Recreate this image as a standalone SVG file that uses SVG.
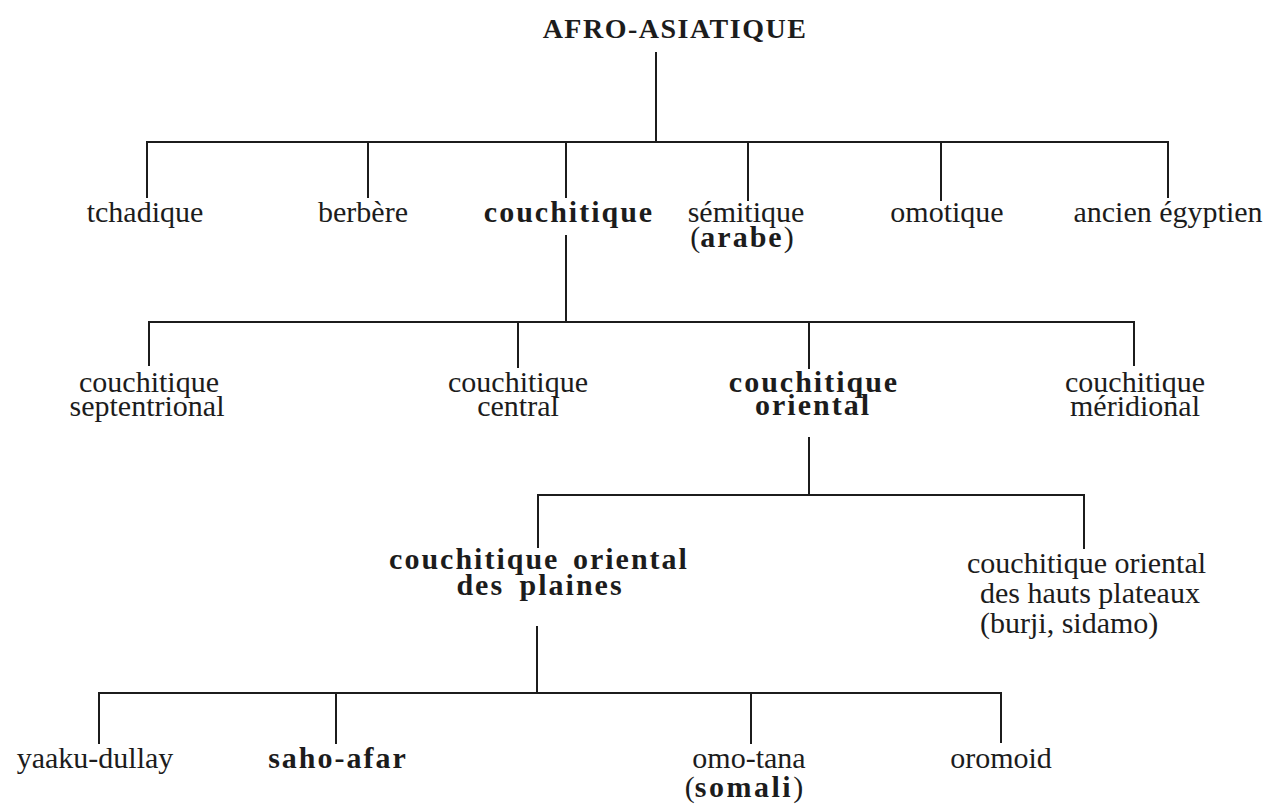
<svg xmlns="http://www.w3.org/2000/svg" width="1278" height="806" viewBox="0 0 1278 806">
<style>
.t{font-family:"Liberation Serif","Times New Roman",serif;font-size:30px;fill:#1c1c1c;text-anchor:middle}
.b{font-weight:bold;letter-spacing:2px}
.n{font-weight:normal;letter-spacing:0}
.l{text-anchor:start}
.c line{stroke:#1c1c1c;stroke-width:2;stroke-linecap:square}
</style>
<rect width="1278" height="806" fill="#ffffff"/>
<g id="connectors" class="c">
<line x1="656" y1="53" x2="656" y2="142"/>
<line x1="147" y1="142" x2="1168" y2="142"/>
<line x1="147" y1="142" x2="147" y2="197"/>
<line x1="368" y1="142" x2="368" y2="197"/>
<line x1="566" y1="142" x2="566" y2="197"/>
<line x1="748" y1="142" x2="748" y2="200"/>
<line x1="941" y1="142" x2="941" y2="200"/>
<line x1="1168" y1="142" x2="1168" y2="197"/>
<line x1="566" y1="236" x2="566" y2="322"/>
<line x1="149" y1="322" x2="1134" y2="322"/>
<line x1="149" y1="322" x2="149" y2="365"/>
<line x1="518" y1="322" x2="518" y2="367"/>
<line x1="809" y1="322" x2="809" y2="368"/>
<line x1="1134" y1="322" x2="1134" y2="365"/>
<line x1="809" y1="438" x2="809" y2="495"/>
<line x1="538" y1="495" x2="1084" y2="495"/>
<line x1="538" y1="495" x2="538" y2="547"/>
<line x1="1084" y1="495" x2="1084" y2="548"/>
<line x1="537" y1="627" x2="537" y2="693"/>
<line x1="99" y1="693" x2="1001" y2="693"/>
<line x1="99" y1="693" x2="99" y2="743"/>
<line x1="336" y1="693" x2="336" y2="743"/>
<line x1="751" y1="693" x2="751" y2="743"/>
<line x1="1001" y1="693" x2="1001" y2="742"/>
</g>
<g id="afro-asiatique"><text class="t b" x="675" y="38" style="font-size:28px;letter-spacing:1.5px">AFRO-ASIATIQUE</text></g>
<g id="tchadique"><text class="t" x="145" y="222">tchadique</text></g>
<g id="berbere"><text class="t" x="363" y="222">berbère</text></g>
<g id="couchitique"><text class="t b" x="569" y="222">couchitique</text></g>
<g id="semitique"><text class="t" x="746" y="222">sémitique</text><text class="t" x="742" y="247">(<tspan class="b">arabe</tspan>)</text></g>
<g id="omotique"><text class="t" x="947" y="222">omotique</text></g>
<g id="ancien-egyptien"><text class="t" x="1168" y="222">ancien égyptien</text></g>
<g id="couchitique-septentrional"><text class="t" x="149" y="392">couchitique</text><text class="t" x="147" y="416">septentrional</text></g>
<g id="couchitique-central"><text class="t" x="518" y="392">couchitique</text><text class="t" x="518" y="416">central</text></g>
<g id="couchitique-oriental"><text class="t b" x="814" y="392">couchitique</text><text class="t b" x="813" y="415">oriental</text></g>
<g id="couchitique-meridional"><text class="t" x="1135" y="392">couchitique</text><text class="t" x="1135" y="416">méridional</text></g>
<g id="couchitique-oriental-plaines"><text class="t b" x="539" y="569" style="word-spacing:4px">couchitique oriental</text><text class="t b" x="540" y="595" style="word-spacing:6px">des plaines</text></g>
<g id="couchitique-oriental-hauts-plateaux"><text class="t l" x="967" y="573">couchitique oriental</text><text class="t l" x="980" y="603">des hauts plateaux</text><text class="t l" x="980" y="633">(burji, sidamo)</text></g>
<g id="yaaku-dullay"><text class="t" x="95" y="768">yaaku-dullay</text></g>
<g id="saho-afar"><text class="t b" x="338" y="768">saho-afar</text></g>
<g id="omo-tana"><text class="t" x="749" y="768">omo-tana</text><text class="t" x="744" y="797">(<tspan class="b" style="letter-spacing:2.5px">somali</tspan>)</text></g>
<g id="oromoid"><text class="t" x="1001" y="768">oromoid</text></g>
</svg>
